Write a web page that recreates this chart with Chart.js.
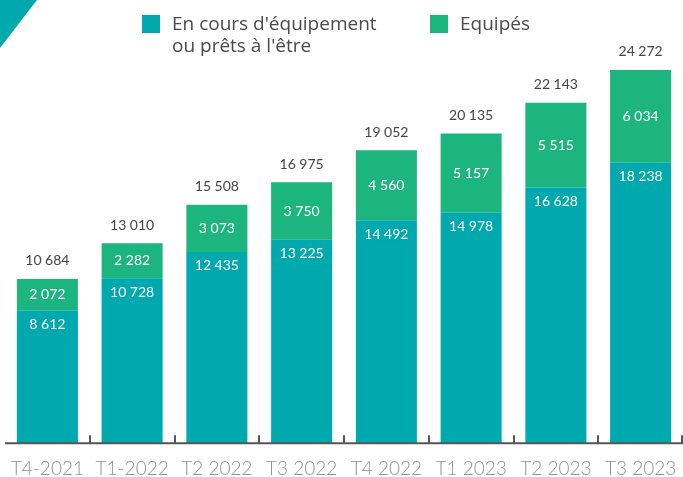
<!DOCTYPE html>
<html>
<head>
<meta charset="utf-8">
<script src="https://cdn.jsdelivr.net/npm/chart.js@4"></script>
<style>
html,body{margin:0;padding:0;background:#fff;}
#wrap{width:683px;height:477px;position:relative;}
</style>
</head>
<body>
<div id="wrap"><canvas id="c" width="683" height="477"></canvas></div>
<script>
const categories = ['T4-2021','T1-2022','T2 2022','T3 2022','T4 2022','T1 2023','T2 2023','T3 2023'];
const enCours = [8612, 10728, 12435, 13225, 14492, 14978, 16628, 18238];
const equipes = [2072, 2282, 3073, 3750, 4560, 5157, 5515, 6034];
const totals = [10684, 13010, 15508, 16975, 19052, 20135, 22143, 24272];
const seriesNames = [["En cours d'équipement", "ou prêts à l'être"], ['Equipés']];

const TEAL = '#00a9ad';
const GREEN = '#1db57f';
const FONT = 'Lato, "Open Sans", sans-serif';
const LFONT = '"Open Sans", Lato, sans-serif';

function fmt(v){ return String(v).replace(/\B(?=(\d{3})+(?!\d))/g, ' '); }

const decor = {
  id: 'decor',
  afterDatasetsDraw(chart){
    const ctx = chart.ctx;
    const x = chart.scales.x;
    const area = chart.chartArea;
    ctx.save();
    // corner triangle
    ctx.fillStyle = TEAL;
    ctx.beginPath(); ctx.moveTo(0,0); ctx.lineTo(37,0); ctx.lineTo(0,48); ctx.closePath(); ctx.fill();
    // axis line
    ctx.strokeStyle = '#555'; ctx.lineWidth = 2;
    ctx.beginPath(); ctx.moveTo(area.left, area.bottom); ctx.lineTo(chart.width, area.bottom); ctx.stroke();
    // tick marks at category boundaries
    for (let i = 1; i <= categories.length; i++) {
      let px;
      if (i < categories.length) px = (x.getPixelForValue(i-1) + x.getPixelForValue(i)) / 2;
      else px = Math.min(area.right, chart.width - 1);
      px = Math.round(px);
      ctx.beginPath(); ctx.moveTo(px, area.bottom); ctx.lineTo(px, area.bottom - 8); ctx.stroke();
    }
    // value labels
    const m0 = chart.getDatasetMeta(0), m1 = chart.getDatasetMeta(1);
    ctx.textAlign = 'center'; ctx.textBaseline = 'middle';
    ctx.font = '14px ' + FONT;
    for (let i = 0; i < categories.length; i++) {
      const b0 = m0.data[i], b1 = m1.data[i];
      ctx.fillStyle = '#ffffff';
      ctx.fillText(fmt(enCours[i]), b0.x, b0.y + 14);
      ctx.fillText(fmt(equipes[i]), b1.x, (b1.y + b1.base) / 2);
      ctx.fillStyle = '#444';
      ctx.fillText(fmt(totals[i]), b1.x, b1.y - 18);
    }
    // legend
    ctx.textAlign = 'left'; ctx.textBaseline = 'alphabetic';
    ctx.font = '19px ' + LFONT;
    ctx.fillStyle = TEAL; ctx.fillRect(142, 15, 18, 18);
    ctx.fillStyle = GREEN; ctx.fillRect(430, 15, 18, 18);
    ctx.fillStyle = '#4a4a4a';
    ctx.fillText(seriesNames[0][0], 172, 30);
    ctx.fillText(seriesNames[0][1], 172, 52);
    ctx.fillText(seriesNames[1][0], 460, 30);
    ctx.restore();
  }
};

new Chart(document.getElementById('c'), {
  type: 'bar',
  data: {
    labels: categories,
    datasets: [
      { label: seriesNames[0].join(' '), data: enCours, backgroundColor: TEAL, stack: 's' },
      { label: seriesNames[1][0], data: equipes, backgroundColor: GREEN, stack: 's' }
    ]
  },
  options: {
    responsive: false,
    animation: false,
    devicePixelRatio: 1,
    layout: { padding: { left: 5, right: 0, top: 40, bottom: -9 } },
    datasets: { bar: { categoryPercentage: 0.72, barPercentage: 1 } },
    plugins: { legend: { display: false }, tooltip: { enabled: false } },
    scales: {
      x: {
        stacked: true,
        grid: { display: false, drawTicks: true, tickLength: 8 },
        border: { display: false },
        ticks: { color: '#929292', font: { family: FONT, size: 19, weight: 300 }, padding: 6, maxRotation: 0, autoSkip: false }
      },
      y: {
        stacked: true, display: false, min: 0, max: 26220
      }
    }
  },
  plugins: [decor]
});
</script>
</body>
</html>
